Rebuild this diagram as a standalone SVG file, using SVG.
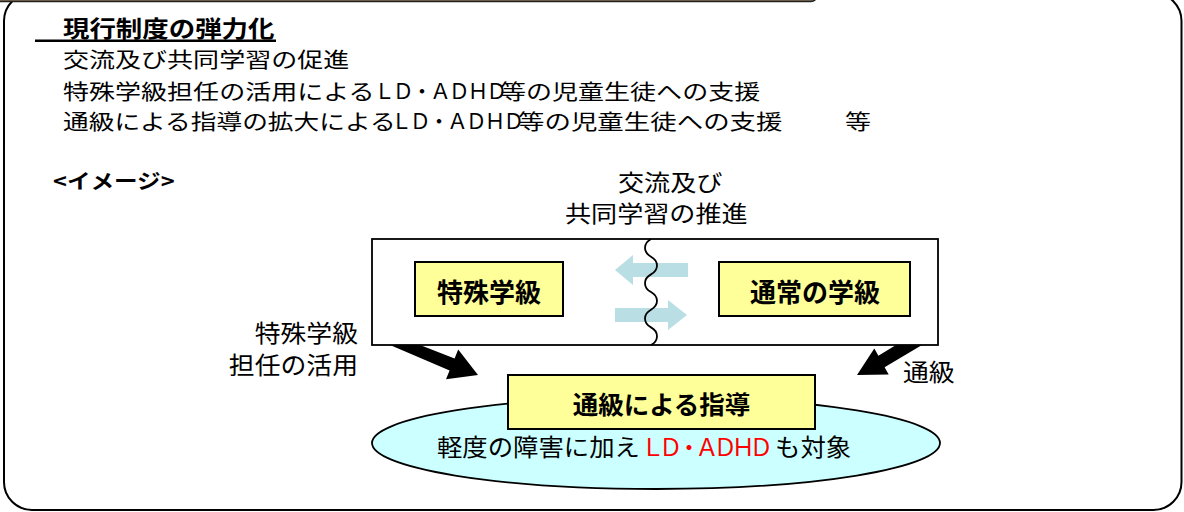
<svg xmlns="http://www.w3.org/2000/svg" width="1184" height="512" viewBox="0 0 1184 512">
<style>
.t{font-family:"Noto Sans CJK JP","Noto Sans",sans-serif;fill:#000}
.b{font-weight:bold}
.bx{fill:#FFFF99;stroke:#000;stroke-width:2}
.blue{fill:#B9DFE4}
.blk{fill:#000}
</style>
<rect width="1184" height="512" fill="#fff"/>
<g id="frame">
<rect x="4" y="-7" width="1177.5" height="517" rx="28" ry="28" fill="#fff" stroke="#000" stroke-width="2"/>
<rect x="-20" y="-30" width="837" height="31.5" rx="6" fill="#857156" stroke="#222" stroke-width="1.5"/>
</g>
<g id="heading">
<text class="t b" font-size="23" transform="translate(63,37) scale(1.15,1)">現行制度の弾力化</text>
<rect x="35" y="39.5" width="241" height="2.5" fill="#000"/>
</g>
<g id="items">
<text class="t" font-size="21" transform="translate(63,66.5) scale(1.24,1)">交流及び共同学習の促進</text>
<text class="t" font-size="21" transform="translate(63,98.5) scale(1.24,1)"><tspan x="0">特殊学級担任の活用による</tspan><tspan x="352.4">等の児童生徒への支援</tspan></text>
<text class="t" font-size="21" letter-spacing="-2.3" x="374" y="98.5">ＬＤ・ＡＤＨＤ</text>
<text class="t" font-size="21" transform="translate(63,128.5) scale(1.224,1)">通級による指導の拡大による</text>
<text class="t" font-size="21" letter-spacing="-2.3" x="391" y="128.5">ＬＤ・ＡＤＨＤ</text>
<text class="t" font-size="21" transform="translate(518,128.5) scale(1.26,1)">等の児童生徒への支援</text>
<text class="t" font-size="21" transform="translate(845,128.5) scale(1.24,1)">等</text>
</g>
<g id="image-label">
<text class="t b" font-size="20.5" transform="translate(53,189) scale(1.15,1)">&lt;イメージ&gt;</text>
</g>
<g id="exchange-label">
<text class="t" font-size="22.5" transform="translate(618,190.5) scale(1.16,1)">交流及び</text>
<text class="t" font-size="22.5" transform="translate(565,221.5) scale(1.16,1)">共同学習の推進</text>
</g>
<g id="teacher-label">
<text class="t" font-size="23.5" text-anchor="end" transform="translate(358,341.5) scale(1.1,1)">特殊学級</text>
<text class="t" font-size="23.5" text-anchor="end" transform="translate(358,373.5) scale(1.1,1)">担任の活用</text>
</g>
<g id="tsukyu-label">
<text class="t" font-size="23.5" transform="translate(903,380.5) scale(1.1,1)">通級</text>
</g>
<g id="school-box">
<rect x="372" y="239" width="566" height="106" fill="#fff" stroke="#000" stroke-width="1.8"/>
</g>
<g id="connectors">
<polygon class="blk" points="390,345 420,345 454.6,358.4 458.2,349.6 478,375 446,379.2 449.6,370.4"/>
<polygon class="blk" points="896,345 922,345 884.6,367.2 888.7,374.6 857,375 874.3,348.4 878.4,355.8"/>
<polygon class="blue" points="688,263 633,263 633,255 615,270 633,285 633,277 688,277"/>
<polygon class="blue" points="615,308 668,308 668,300 687,315 668,330 668,322 615,322"/>
<path d="M651,239 c-8,4.4 -8,13.2 0,17.67 c8,4.4 8,13.2 0,17.67 c-8,4.4 -8,13.2 0,17.67 c8,4.4 8,13.2 0,17.67 c-8,4.4 -8,13.2 0,17.67 c8,4.4 8,13.2 0,17.67" fill="none" stroke="#000" stroke-width="1.8"/>
</g>
<g id="special-class">
<rect class="bx" x="415" y="262" width="148" height="54"/>
<text class="t b" font-size="26" text-anchor="middle" x="489" y="301.5">特殊学級</text>
</g>
<g id="regular-class">
<rect class="bx" x="719" y="262" width="191" height="54"/>
<text class="t b" font-size="26" text-anchor="middle" x="815" y="301.5">通常の学級</text>
</g>
<g id="target">
<ellipse cx="656" cy="443" rx="284" ry="46" fill="#CCFFFF" stroke="#000" stroke-width="1.8"/>
<text class="t" font-size="23.5" transform="translate(437,456) scale(1.08,1)"><tspan x="0">軽度の障害に加え</tspan><tspan x="313">も対象</tspan></text>
<text class="t" font-size="23.5" letter-spacing="-5.4" x="641" y="456" style="fill:#FF0000">ＬＤ・ＡＤＨＤ</text>
</g>
<g id="tsukyu-guidance">
<rect class="bx" x="508" y="375" width="307" height="54"/>
<text class="t b" font-size="25.5" text-anchor="middle" x="661.5" y="413.5">通級による指導</text>
</g>
</svg>
